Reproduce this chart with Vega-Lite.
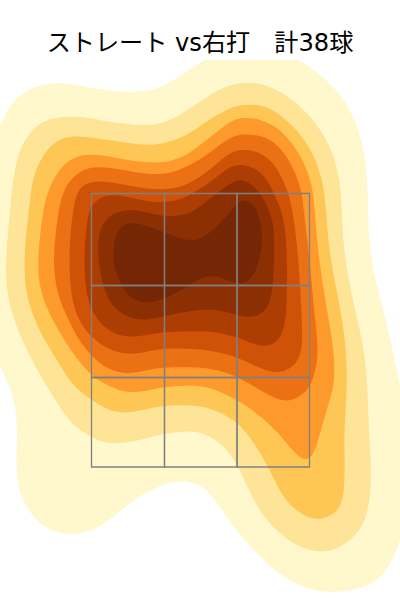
{"$schema":"https://vega.github.io/schema/vega-lite/v6.json","width":400,"height":540,"autosize":{"type":"none"},"padding":{"top":60,"left":0,"right":0,"bottom":0},"background":"white","title":{"text":"ストレート vs右打　計38球","font":"DejaVu Sans, Noto Sans CJK JP","fontSize":24.15,"fontWeight":"normal","color":"#000000","anchor":"middle","offset":4},"view":{"stroke":null},"layer":[{"data":{"values":[
{"band":1,"x":-12,"y":200},{"band":1,"x":-6,"y":135},{"band":1,"x":10,"y":105},{"band":1,"x":20,"y":95},{"band":1,"x":33,"y":87},{"band":1,"x":50,"y":83},{"band":1,"x":67,"y":83},{"band":1,"x":90,"y":88},{"band":1,"x":117,"y":92},{"band":1,"x":143,"y":92},{"band":1,"x":160,"y":88},{"band":1,"x":177,"y":78},{"band":1,"x":200,"y":63},{"band":1,"x":215,"y":52},{"band":1,"x":250,"y":42},{"band":1,"x":280,"y":50},{"band":1,"x":310,"y":66},{"band":1,"x":334,"y":86},{"band":1,"x":351,"y":110},{"band":1,"x":361,"y":137},{"band":1,"x":366,"y":163},{"band":1,"x":368,"y":193},{"band":1,"x":368,"y":220},{"band":1,"x":370,"y":250},{"band":1,"x":377,"y":287},{"band":1,"x":387,"y":323},{"band":1,"x":393,"y":353},{"band":1,"x":400,"y":383},{"band":1,"x":409,"y":440},{"band":1,"x":409,"y":500},{"band":1,"x":401,"y":540},{"band":1,"x":391,"y":564},{"band":1,"x":378,"y":581},{"band":1,"x":357,"y":590},{"band":1,"x":330,"y":593},{"band":1,"x":307,"y":589},{"band":1,"x":283,"y":577},{"band":1,"x":263,"y":560},{"band":1,"x":247,"y":543},{"band":1,"x":233,"y":527},{"band":1,"x":220,"y":507},{"band":1,"x":210,"y":493},{"band":1,"x":200,"y":485},{"band":1,"x":183,"y":480},{"band":1,"x":167,"y":483},{"band":1,"x":147,"y":492},{"band":1,"x":130,"y":503},{"band":1,"x":113,"y":517},{"band":1,"x":97,"y":529},{"band":1,"x":73,"y":536},{"band":1,"x":53,"y":532},{"band":1,"x":36,"y":521},{"band":1,"x":24,"y":503},{"band":1,"x":18,"y":487},{"band":1,"x":16,"y":467},{"band":1,"x":17,"y":443},{"band":1,"x":17,"y":420},{"band":1,"x":14,"y":400},{"band":1,"x":9,"y":385},{"band":1,"x":0,"y":367},{"band":1,"x":-8,"y":340},{"band":1,"x":-12,"y":270},
{"band":2,"x":10,"y":210},{"band":2,"x":13,"y":180},{"band":2,"x":18,"y":153},{"band":2,"x":27,"y":136},{"band":2,"x":40,"y":122},{"band":2,"x":57,"y":117},{"band":2,"x":80,"y":116},{"band":2,"x":103,"y":121},{"band":2,"x":127,"y":124},{"band":2,"x":147,"y":126},{"band":2,"x":167,"y":122},{"band":2,"x":183,"y":113},{"band":2,"x":200,"y":102},{"band":2,"x":217,"y":90},{"band":2,"x":233,"y":84},{"band":2,"x":250,"y":82},{"band":2,"x":267,"y":85},{"band":2,"x":287,"y":95},{"band":2,"x":307,"y":112},{"band":2,"x":323,"y":133},{"band":2,"x":333,"y":153},{"band":2,"x":340,"y":180},{"band":2,"x":342,"y":210},{"band":2,"x":343,"y":243},{"band":2,"x":348,"y":277},{"band":2,"x":355,"y":310},{"band":2,"x":363,"y":343},{"band":2,"x":367,"y":377},{"band":2,"x":368,"y":405},{"band":2,"x":369,"y":433},{"band":2,"x":372,"y":480},{"band":2,"x":368,"y":514},{"band":2,"x":358,"y":534},{"band":2,"x":340,"y":548},{"band":2,"x":323,"y":553},{"band":2,"x":303,"y":549},{"band":2,"x":283,"y":537},{"band":2,"x":263,"y":517},{"band":2,"x":250,"y":493},{"band":2,"x":240,"y":470},{"band":2,"x":230,"y":453},{"band":2,"x":217,"y":440},{"band":2,"x":200,"y":432},{"band":2,"x":190,"y":431},{"band":2,"x":167,"y":433},{"band":2,"x":147,"y":438},{"band":2,"x":123,"y":444},{"band":2,"x":103,"y":443},{"band":2,"x":87,"y":435},{"band":2,"x":70,"y":423},{"band":2,"x":55,"y":400},{"band":2,"x":37,"y":370},{"band":2,"x":23,"y":343},{"band":2,"x":10,"y":310},{"band":2,"x":5,"y":277},{"band":2,"x":7,"y":243},
{"band":3,"x":29,"y":210},{"band":3,"x":32,"y":180},{"band":3,"x":40,"y":160},{"band":3,"x":50,"y":146},{"band":3,"x":63,"y":137},{"band":3,"x":80,"y":136},{"band":3,"x":103,"y":139},{"band":3,"x":127,"y":143},{"band":3,"x":150,"y":146},{"band":3,"x":170,"y":142},{"band":3,"x":187,"y":135},{"band":3,"x":200,"y":126},{"band":3,"x":217,"y":115},{"band":3,"x":233,"y":106},{"band":3,"x":250,"y":104},{"band":3,"x":267,"y":106},{"band":3,"x":283,"y":117},{"band":3,"x":300,"y":133},{"band":3,"x":313,"y":153},{"band":3,"x":322,"y":177},{"band":3,"x":326,"y":205},{"band":3,"x":328,"y":243},{"band":3,"x":335,"y":283},{"band":3,"x":342,"y":317},{"band":3,"x":346,"y":350},{"band":3,"x":347,"y":377},{"band":3,"x":346,"y":405},{"band":3,"x":344,"y":433},{"band":3,"x":345,"y":467},{"band":3,"x":344,"y":497},{"band":3,"x":338,"y":511},{"band":3,"x":327,"y":518},{"band":3,"x":313,"y":520},{"band":3,"x":297,"y":512},{"band":3,"x":283,"y":497},{"band":3,"x":273,"y":477},{"band":3,"x":263,"y":457},{"band":3,"x":250,"y":437},{"band":3,"x":237,"y":422},{"band":3,"x":220,"y":412},{"band":3,"x":200,"y":405},{"band":3,"x":167,"y":405},{"band":3,"x":150,"y":408},{"band":3,"x":127,"y":414},{"band":3,"x":107,"y":410},{"band":3,"x":92,"y":400},{"band":3,"x":73,"y":387},{"band":3,"x":57,"y":360},{"band":3,"x":40,"y":333},{"band":3,"x":28,"y":303},{"band":3,"x":24,"y":277},{"band":3,"x":25,"y":243},
{"band":4,"x":43,"y":210},{"band":4,"x":48,"y":190},{"band":4,"x":57,"y":173},{"band":4,"x":67,"y":161},{"band":4,"x":83,"y":154},{"band":4,"x":103,"y":155},{"band":4,"x":127,"y":160},{"band":4,"x":150,"y":163},{"band":4,"x":170,"y":162},{"band":4,"x":187,"y":155},{"band":4,"x":200,"y":145},{"band":4,"x":217,"y":132},{"band":4,"x":230,"y":121},{"band":4,"x":243,"y":117},{"band":4,"x":260,"y":119},{"band":4,"x":277,"y":127},{"band":4,"x":290,"y":140},{"band":4,"x":303,"y":160},{"band":4,"x":312,"y":183},{"band":4,"x":315,"y":210},{"band":4,"x":317,"y":243},{"band":4,"x":323,"y":287},{"band":4,"x":330,"y":327},{"band":4,"x":335,"y":360},{"band":4,"x":334,"y":387},{"band":4,"x":328,"y":405},{"band":4,"x":321,"y":430},{"band":4,"x":314,"y":455},{"band":4,"x":306,"y":461},{"band":4,"x":297,"y":456},{"band":4,"x":283,"y":438},{"band":4,"x":263,"y":418},{"band":4,"x":243,"y":403},{"band":4,"x":220,"y":391},{"band":4,"x":200,"y":385},{"band":4,"x":180,"y":386},{"band":4,"x":164,"y":387},{"band":4,"x":150,"y":390},{"band":4,"x":127,"y":394},{"band":4,"x":107,"y":385},{"band":4,"x":92,"y":377},{"band":4,"x":75,"y":357},{"band":4,"x":60,"y":333},{"band":4,"x":47,"y":310},{"band":4,"x":38,"y":283},{"band":4,"x":38,"y":253},
{"band":5,"x":58,"y":215},{"band":5,"x":62,"y":193},{"band":5,"x":72,"y":177},{"band":5,"x":87,"y":167},{"band":5,"x":107,"y":167},{"band":5,"x":133,"y":172},{"band":5,"x":157,"y":175},{"band":5,"x":177,"y":172},{"band":5,"x":200,"y":160},{"band":5,"x":217,"y":147},{"band":5,"x":233,"y":135},{"band":5,"x":250,"y":134},{"band":5,"x":267,"y":137},{"band":5,"x":281,"y":148},{"band":5,"x":293,"y":167},{"band":5,"x":302,"y":190},{"band":5,"x":304,"y":215},{"band":5,"x":308,"y":243},{"band":5,"x":312,"y":287},{"band":5,"x":315,"y":320},{"band":5,"x":319,"y":353},{"band":5,"x":314,"y":377},{"band":5,"x":308,"y":391},{"band":5,"x":293,"y":401},{"band":5,"x":280,"y":401},{"band":5,"x":263,"y":392},{"band":5,"x":247,"y":382},{"band":5,"x":233,"y":375},{"band":5,"x":217,"y":370},{"band":5,"x":200,"y":367},{"band":5,"x":164,"y":367},{"band":5,"x":147,"y":370},{"band":5,"x":127,"y":375},{"band":5,"x":107,"y":369},{"band":5,"x":92,"y":357},{"band":5,"x":77,"y":338},{"band":5,"x":65,"y":313},{"band":5,"x":55,"y":287},{"band":5,"x":53,"y":253},
{"band":6,"x":72,"y":220},{"band":6,"x":75,"y":197},{"band":6,"x":82,"y":184},{"band":6,"x":97,"y":181},{"band":6,"x":117,"y":183},{"band":6,"x":140,"y":188},{"band":6,"x":163,"y":190},{"band":6,"x":183,"y":187},{"band":6,"x":200,"y":177},{"band":6,"x":213,"y":167},{"band":6,"x":230,"y":152},{"band":6,"x":243,"y":149},{"band":6,"x":260,"y":152},{"band":6,"x":274,"y":163},{"band":6,"x":285,"y":183},{"band":6,"x":292,"y":205},{"band":6,"x":298,"y":250},{"band":6,"x":301,"y":303},{"band":6,"x":303,"y":343},{"band":6,"x":299,"y":361},{"band":6,"x":287,"y":371},{"band":6,"x":273,"y":373},{"band":6,"x":257,"y":367},{"band":6,"x":237,"y":357},{"band":6,"x":217,"y":352},{"band":6,"x":200,"y":349},{"band":6,"x":164,"y":348},{"band":6,"x":147,"y":352},{"band":6,"x":127,"y":355},{"band":6,"x":107,"y":349},{"band":6,"x":92,"y":338},{"band":6,"x":80,"y":323},{"band":6,"x":72,"y":303},{"band":6,"x":69,"y":270},{"band":6,"x":70,"y":237},
{"band":7,"x":87,"y":220},{"band":7,"x":91,"y":206},{"band":7,"x":100,"y":197},{"band":7,"x":113,"y":194},{"band":7,"x":133,"y":198},{"band":7,"x":150,"y":202},{"band":7,"x":167,"y":203},{"band":7,"x":187,"y":197},{"band":7,"x":200,"y":189},{"band":7,"x":213,"y":180},{"band":7,"x":230,"y":166},{"band":7,"x":243,"y":164},{"band":7,"x":257,"y":169},{"band":7,"x":268,"y":180},{"band":7,"x":276,"y":198},{"band":7,"x":283,"y":214},{"band":7,"x":287,"y":243},{"band":7,"x":287,"y":293},{"band":7,"x":286,"y":323},{"band":7,"x":279,"y":341},{"band":7,"x":267,"y":347},{"band":7,"x":253,"y":344},{"band":7,"x":237,"y":337},{"band":7,"x":217,"y":332},{"band":7,"x":200,"y":331},{"band":7,"x":164,"y":332},{"band":7,"x":147,"y":335},{"band":7,"x":127,"y":338},{"band":7,"x":107,"y":331},{"band":7,"x":92,"y":313},{"band":7,"x":85,"y":290},{"band":7,"x":84,"y":253},
{"band":8,"x":101,"y":226},{"band":8,"x":112,"y":212},{"band":8,"x":133,"y":209},{"band":8,"x":150,"y":213},{"band":8,"x":165,"y":217},{"band":8,"x":187,"y":215},{"band":8,"x":200,"y":207},{"band":8,"x":217,"y":193},{"band":8,"x":233,"y":181},{"band":8,"x":244,"y":179},{"band":8,"x":258,"y":189},{"band":8,"x":268,"y":207},{"band":8,"x":274,"y":225},{"band":8,"x":274,"y":243},{"band":8,"x":274,"y":277},{"band":8,"x":271,"y":301},{"band":8,"x":263,"y":314},{"band":8,"x":250,"y":318},{"band":8,"x":237,"y":315},{"band":8,"x":220,"y":310},{"band":8,"x":200,"y":309},{"band":8,"x":164,"y":316},{"band":8,"x":143,"y":321},{"band":8,"x":127,"y":317},{"band":8,"x":112,"y":307},{"band":8,"x":104,"y":290},{"band":8,"x":98,"y":263},{"band":8,"x":98,"y":240},
{"band":9,"x":115,"y":236},{"band":9,"x":122,"y":225},{"band":9,"x":133,"y":222},{"band":9,"x":150,"y":227},{"band":9,"x":167,"y":233},{"band":9,"x":183,"y":240},{"band":9,"x":200,"y":241},{"band":9,"x":217,"y":227},{"band":9,"x":230,"y":212},{"band":9,"x":240,"y":200},{"band":9,"x":251,"y":200},{"band":9,"x":260,"y":216},{"band":9,"x":263,"y":240},{"band":9,"x":259,"y":264},{"band":9,"x":251,"y":280},{"band":9,"x":240,"y":285},{"band":9,"x":227,"y":280},{"band":9,"x":213,"y":275},{"band":9,"x":200,"y":278},{"band":9,"x":187,"y":287},{"band":9,"x":167,"y":298},{"band":9,"x":147,"y":304},{"band":9,"x":132,"y":300},{"band":9,"x":121,"y":286},{"band":9,"x":114,"y":267},{"band":9,"x":113,"y":253}
]},"transform":[{"window":[{"op":"row_number","as":"seq"}]}],"mark":{"type":"line","interpolate":"basis-closed","stroke":null,"strokeWidth":0,"clip":true},"encoding":{"x":{"field":"x","type":"quantitative","scale":{"domain":[0,400],"nice":false,"zero":false},"axis":null},"y":{"field":"y","type":"quantitative","scale":{"domain":[60,600],"nice":false,"zero":false,"reverse":true},"axis":null},"fill":{"field":"band","type":"ordinal","legend":null,"scale":{"domain":[1,2,3,4,5,6,7,8,9],"range":["#fff8cc","#fee497","#fec655","#fe9a2c","#ec7014","#d05207","#ac3d03","#8c3004","#752604"]}},"order":{"field":"seq","type":"quantitative"}}},{"data":{"values":[
{"x1":91.5,"x2":164.5,"y1":193.5,"y2":285.5},{"x1":164.5,"x2":237,"y1":193.5,"y2":285.5},{"x1":237,"x2":309.5,"y1":193.5,"y2":285.5},{"x1":91.5,"x2":164.5,"y1":285.5,"y2":377.5},{"x1":164.5,"x2":237,"y1":285.5,"y2":377.5},{"x1":237,"x2":309.5,"y1":285.5,"y2":377.5},{"x1":91.5,"x2":164.5,"y1":377.5,"y2":467},{"x1":164.5,"x2":237,"y1":377.5,"y2":467},{"x1":237,"x2":309.5,"y1":377.5,"y2":467}
]},"mark":{"type":"rect","fillOpacity":0,"stroke":"#808080","strokeWidth":1.3},"encoding":{"x":{"field":"x1","type":"quantitative","scale":{"domain":[0,400],"nice":false,"zero":false},"axis":null},"x2":{"field":"x2"},"y":{"field":"y1","type":"quantitative","scale":{"domain":[60,600],"nice":false,"zero":false,"reverse":true},"axis":null},"y2":{"field":"y2"}}}]}
